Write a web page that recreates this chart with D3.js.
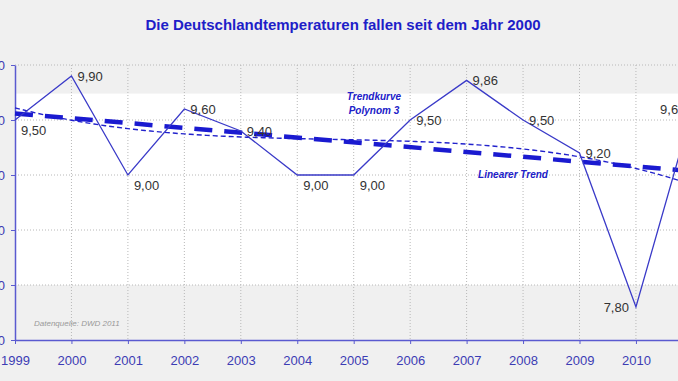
<!DOCTYPE html>
<html>
<head>
<meta charset="utf-8">
<script src="https://cdn.jsdelivr.net/npm/d3@7"></script>
<style>
  body { margin: 0; background: #f0f0f0; }
  svg { display: block; font-family: "Liberation Sans", Arial, sans-serif; }
</style>
</head>
<body>
<div id="chart"></div>
<script>
// values
var years = [1999, 2000, 2001, 2002, 2003, 2004, 2005, 2006, 2007, 2008, 2009, 2010, 2011];
var temps = [9.50, 9.90, 9.00, 9.60, 9.40, 9.00, 9.00, 9.50, 9.86, 9.50, 9.20, 7.80, 9.60];
var yTicks = [7.5, 8.0, 8.5, 9.0, 9.5, 10.0];
var whiteBand = [8.0, 9.74];

var width = 678, height = 381;
var blue = "#3a3ac8";

var xScale = d3.scaleLinear().domain([1999, 2011]).range([15, 692.4]);
var yScale = d3.scaleLinear().domain([7.5, 10]).range([340, 65]);

var svg = d3.select("#chart").append("svg")
  .attr("width", width)
  .attr("height", height);

svg.append("rect").attr("width", width).attr("height", height).attr("fill", "#f0f0f0");

// white band inside plot
svg.append("rect")
  .attr("x", xScale(1999))
  .attr("y", yScale(whiteBand[1]))
  .attr("width", width - xScale(1999))
  .attr("height", yScale(whiteBand[0]) - yScale(whiteBand[1]))
  .attr("fill", "#ffffff");

// grid
svg.append("g").selectAll("line").data(yTicks.slice(1)).join("line")
  .attr("x1", xScale(1999)).attr("x2", width)
  .attr("y1", d => yScale(d)).attr("y2", d => yScale(d))
  .attr("stroke", "#b8b8b8").attr("stroke-dasharray", "1,2");

svg.append("g").selectAll("line").data(years.slice(1)).join("line")
  .attr("x1", d => xScale(d)).attr("x2", d => xScale(d))
  .attr("y1", yScale(10)).attr("y2", yScale(7.5))
  .attr("stroke", "#b8b8b8").attr("stroke-dasharray", "1,2");

// axes
var fmt = d => d.toFixed(2).replace(".", ",");
var yAxis = svg.append("g")
  .attr("transform", "translate(" + xScale(1999) + ",0)")
  .call(d3.axisLeft(yScale).tickValues(yTicks).tickFormat(fmt).tickSize(4).tickSizeOuter(0));

var xAxis = svg.append("g")
  .attr("transform", "translate(0," + yScale(7.5) + ")")
  .call(d3.axisBottom(xScale).tickValues(years).tickFormat(d3.format("d")).tickSize(4).tickSizeOuter(0));

[yAxis, xAxis].forEach(function(ax) {
  ax.select(".domain").attr("stroke", "#5a5ad0").attr("stroke-width", 1.5);
  ax.selectAll(".tick line").attr("stroke", "#5a5ad0");
  ax.selectAll(".tick text").attr("fill", "#3c3cb4").attr("font-size", 13)
    .attr("font-family", "'Liberation Sans', Arial, sans-serif");
});
xAxis.selectAll(".tick text").attr("dy", "1.35em");
// the labels sit mostly outside the cropped picture, only the last digit shows
yAxis.selectAll(".tick text").attr("x", -10).attr("dy", "0.35em");

// least squares fits, like the spreadsheet trend lines
function polyFit(xs, ys, deg) {
  var n = deg + 1;
  var A = [], b = [];
  for (var i = 0; i < n; i++) {
    A.push([]);
    for (var j = 0; j < n; j++) A[i].push(d3.sum(xs, x => Math.pow(x, i + j)));
    b.push(d3.sum(xs, (x, k) => ys[k] * Math.pow(x, i)));
  }
  for (var c = 0; c < n; c++) {
    for (var r = c + 1; r < n; r++) {
      var f = A[r][c] / A[c][c];
      for (var k = c; k < n; k++) A[r][k] -= f * A[c][k];
      b[r] -= f * b[c];
    }
  }
  var coef = new Array(n);
  for (var r2 = n - 1; r2 >= 0; r2--) {
    var s = b[r2];
    for (var k2 = r2 + 1; k2 < n; k2++) s -= A[r2][k2] * coef[k2];
    coef[r2] = s / A[r2][r2];
  }
  return x => coef.reduce((acc, cf, p) => acc + cf * Math.pow(x, p), 0);
}

var idx = years.map((d, i) => i + 1);
var lin = polyFit(idx, temps, 1);
var cub = polyFit(idx, temps, 3);
var samples = d3.range(0, 12.01, 0.1);

var fitLine = function(fn) {
  return d3.line()
    .x(t => xScale(1999 + t))
    .y(t => yScale(fn(t + 1)));
};

svg.append("path").datum(samples)
  .attr("fill", "none").attr("stroke", "#2222cc").attr("stroke-width", 1.4)
  .attr("stroke-dasharray", "5,3")
  .attr("d", fitLine(cub));

svg.append("path").datum([0, 12])
  .attr("fill", "none").attr("stroke", "#1a1ad0").attr("stroke-width", 4.5)
  .attr("stroke-dasharray", "18,12")
  .attr("d", fitLine(lin));

// temperature series
svg.append("path").datum(temps)
  .attr("fill", "none").attr("stroke", blue).attr("stroke-width", 1.3)
  .attr("d", d3.line().x((d, i) => xScale(years[i])).y(d => yScale(d)));

// value labels
var n = temps.length;
svg.append("g").selectAll("text").data(temps).join("text")
  .attr("x", (d, i) => xScale(years[i]) + (i >= n - 2 ? -7 : 6))
  .attr("y", function(d, i) {
    var prev = i > 0 ? temps[i - 1] : Infinity;
    var next = i < n - 1 ? temps[i + 1] : Infinity;
    var trough = d <= prev && d <= next;
    return yScale(d) + (trough && i < n - 2 ? 10 : 0);
  })
  .attr("dy", "0.35em")
  .attr("text-anchor", (d, i) => i >= n - 2 ? "end" : "start")
  .attr("font-size", 13)
  .attr("fill", "#333")
  .text(d => fmt(d));

// annotations
svg.append("text").attr("x", 343).attr("y", 30).attr("text-anchor", "middle")
  .attr("font-size", 15).attr("font-weight", "bold").attr("fill", "#1e1ec8")
  .text("Die Deutschlandtemperaturen fallen seit dem Jahr 2000");

var note = svg.append("text").attr("text-anchor", "middle")
  .attr("font-size", 10).attr("font-weight", "bold").attr("font-style", "italic")
  .attr("fill", "#2020c8");
note.append("tspan").attr("x", 374).attr("y", 100).text("Trendkurve");
note.append("tspan").attr("x", 374).attr("y", 114).text("Polynom 3");

svg.append("text").attr("x", 513).attr("y", 178).attr("text-anchor", "middle")
  .attr("font-size", 10).attr("font-weight", "bold").attr("font-style", "italic")
  .attr("fill", "#2020c8").text("Linearer Trend");

svg.append("text").attr("x", 34).attr("y", 326)
  .attr("font-size", 8).attr("font-style", "italic").attr("fill", "#999")
  .text("Datenquelle: DWD 2011");
</script>
</body>
</html>
